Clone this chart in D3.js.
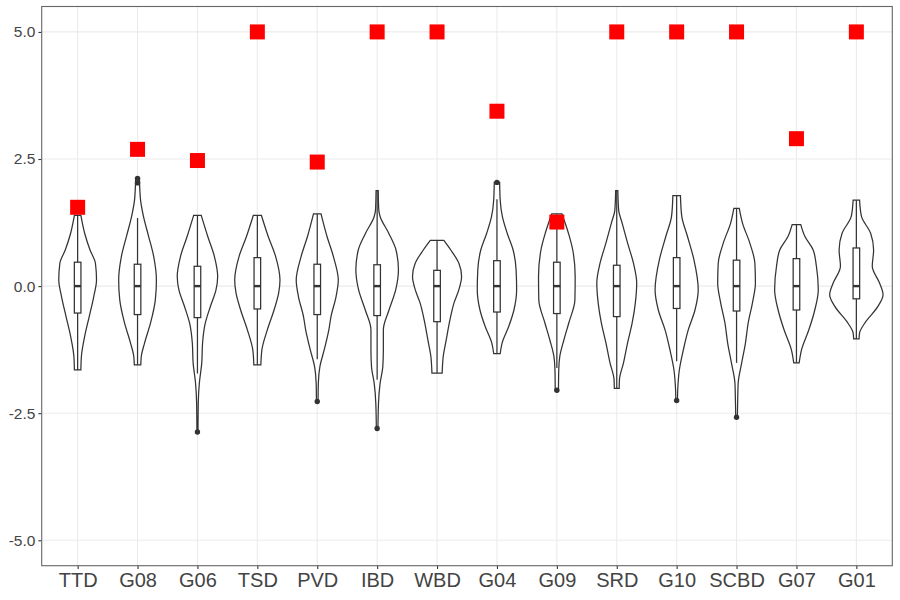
<!DOCTYPE html>
<html>
<head>
<meta charset="utf-8">
<script src="https://cdn.jsdelivr.net/npm/d3@7"></script>
<style>
  body { margin: 0; background: #fff; }
  text { font-family: "Liberation Sans", Arial, sans-serif; }
</style>
</head>
<body>
<div id="chart"></div>
<script>
// categories along the x axis
var categories = ["TTD", "G08", "G06", "TSD", "PVD", "IBD", "WBD", "G04", "G09", "SRD", "G10", "SCBD", "G07", "G01"];

// red square markers
var redValues = [1.55, 2.69, 2.47, 5, 2.44, 5, 5, 3.44, 1.26, 5, 5, 5, 2.90, 5];

// boxplot stats
var boxQ1 = [-0.53, -0.56, -0.62, -0.45, -0.56, -0.58, -0.70, -0.51, -0.54, -0.60, -0.44, -0.49, -0.47, -0.25];
var boxMedian = [0, 0, 0, 0, 0, 0, 0, 0, 0, 0, 0, 0, 0, 0];
var boxQ3 = [0.47, 0.43, 0.39, 0.56, 0.43, 0.42, 0.31, 0.50, 0.47, 0.41, 0.56, 0.51, 0.54, 0.75];
var whiskerLo = [-1.65, -1.55, -1.72, -1.55, -1.44, -1.84, -1.71, -1.33, -1.61, -2.01, -1.48, -1.51, -1.51, -1.04];
var whiskerHi = [1.39, 1.34, 1.39, 1.39, 1.42, 1.88, 0.90, 1.71, 1.42, 1.88, 1.78, 1.53, 1.21, 1.69];
var outliers = [[], [2.12, 2.03], [-2.87], [], [-2.27], [-2.8], [], [2.04], [-2.05], [], [-2.25], [-2.58], [], []];

// violin outlines: [value, relative density]
var violinProfiles = [
  [[1.39,0.12],[1.04,0.26],[0.71,0.46],[0.45,0.66],[0.12,0.70],[-0.2,0.60],[-0.6,0.43],[-0.99,0.26],[-1.38,0.14],[-1.65,0.12]],
  [[2.12,0.07],[1.7,0.11],[1.37,0.22],[0.98,0.41],[0.58,0.60],[0.12,0.70],[-0.27,0.66],[-0.73,0.48],[-1.12,0.26],[-1.38,0.14],[-1.55,0.12]],
  [[1.39,0.14],[0.98,0.38],[0.58,0.63],[0.19,0.75],[-0.07,0.69],[-0.4,0.48],[-0.73,0.29],[-1.12,0.19],[-1.51,0.16],[-1.91,0.07],[-2.3,0.03],[-2.87,0.02]],
  [[1.39,0.15],[0.98,0.40],[0.58,0.68],[0.12,0.84],[-0.14,0.79],[-0.47,0.62],[-0.86,0.37],[-1.25,0.17],[-1.55,0.13]],
  [[1.42,0.14],[0.98,0.36],[0.58,0.60],[0.12,0.78],[-0.2,0.70],[-0.6,0.51],[-0.86,0.43],[-1.25,0.26],[-1.58,0.10],[-1.91,0.04],[-2.27,0.03]],
  [[1.88,0.04],[1.5,0.06],[1.37,0.11],[1.04,0.43],[0.71,0.70],[0.32,0.79],[-0.07,0.69],[-0.47,0.44],[-0.86,0.23],[-1.25,0.23],[-1.58,0.21],[-1.91,0.11],[-2.3,0.05],[-2.8,0.03]],
  [[0.9,0.25],[0.71,0.51],[0.45,0.81],[0.19,0.91],[-0.07,0.81],[-0.33,0.63],[-0.66,0.48],[-1.06,0.34],[-1.38,0.23],[-1.71,0.19]],
  [[2.04,0.10],[1.7,0.12],[1.37,0.20],[1.04,0.38],[0.71,0.60],[0.32,0.71],[-0.07,0.73],[-0.47,0.63],[-0.79,0.44],[-1.12,0.19],[-1.33,0.12]],
  [[1.42,0.19],[1.04,0.43],[0.71,0.59],[0.19,0.68],[-0.27,0.67],[-0.73,0.44],[-1.06,0.26],[-1.38,0.11],[-1.65,0.07],[-2.05,0.06]],
  [[1.88,0.04],[1.5,0.07],[1.24,0.20],[0.85,0.40],[0.45,0.62],[0.06,0.74],[-0.33,0.69],[-0.73,0.57],[-1.12,0.40],[-1.51,0.25],[-1.84,0.10],[-2.01,0.09]],
  [[1.78,0.14],[1.37,0.19],[0.98,0.40],[0.52,0.64],[-0.07,0.80],[-0.47,0.68],[-0.86,0.43],[-1.25,0.25],[-1.65,0.10],[-2.04,0.04],[-2.25,0.03]],
  [[1.53,0.10],[1.24,0.22],[0.85,0.49],[0.45,0.68],[0.06,0.70],[-0.33,0.59],[-0.73,0.43],[-1.12,0.33],[-1.51,0.19],[-1.91,0.06],[-2.3,0.04],[-2.58,0.03]],
  [[1.21,0.16],[0.98,0.31],[0.71,0.62],[0.39,0.74],[-0.07,0.81],[-0.47,0.68],[-0.86,0.46],[-1.25,0.19],[-1.51,0.10]],
  [[1.69,0.12],[1.37,0.19],[1.04,0.53],[0.71,0.64],[0.39,0.59],[0.06,0.86],[-0.17,0.99],[-0.4,0.80],[-0.73,0.31],[-0.92,0.12],[-1.04,0.10]]
];

var yTicks = [-5, -2.5, 0, 2.5, 5];

var svgWidth = 900;
var svgHeight = 600;

var margin = { top: 6.5, right: 7.7, bottom: 34.3, left: 41.7 };

var width = svgWidth - margin.left - margin.right;
var height = svgHeight - margin.top - margin.bottom;

var svg = d3.select("#chart")
  .append("svg")
  .attr("width", svgWidth)
  .attr("height", svgHeight);

var chartGroup = svg.append("g")
  .attr("transform", `translate(${margin.left}, ${margin.top})`);

// scales
var xScale = d3.scalePoint()
  .domain(categories)
  .range([0, width])
  .padding(0.6);

var step = xScale.step();

var yScale = d3.scaleLinear()
  .domain([-5.5, 5.5])
  .range([height, 0]);

// density -> half width
var wScale = d3.scaleLinear()
  .domain([0, 1])
  .range([0, 0.45 * step]);

var boxHalf = 0.055 * step;
var ink = "#333333";

// grid lines
chartGroup.append("g")
  .selectAll("line")
  .data(yTicks)
  .enter()
  .append("line")
  .attr("x1", 0)
  .attr("x2", width)
  .attr("y1", d => yScale(d))
  .attr("y2", d => yScale(d))
  .attr("stroke", "#ebebeb")
  .attr("stroke-width", 1.1);

chartGroup.append("g")
  .selectAll("line")
  .data(categories)
  .enter()
  .append("line")
  .attr("x1", d => xScale(d))
  .attr("x2", d => xScale(d))
  .attr("y1", 0)
  .attr("y2", height)
  .attr("stroke", "#ebebeb")
  .attr("stroke-width", 1.1);

// violins
var violinArea = d3.area()
  .y(d => yScale(d[0]))
  .x0(d => -wScale(d[1]))
  .x1(d => wScale(d[1]))
  .curve(d3.curveMonotoneY);

var groups = chartGroup.selectAll(".cat")
  .data(categories)
  .enter()
  .append("g")
  .attr("class", "cat")
  .attr("transform", d => `translate(${xScale(d)}, 0)`);

groups.append("path")
  .attr("d", (d, i) => violinArea(violinProfiles[i]))
  .attr("fill", "white")
  .attr("stroke", ink)
  .attr("stroke-width", 1.25);

// whiskers
groups.append("line")
  .attr("x1", 0).attr("x2", 0)
  .attr("y1", (d, i) => yScale(boxQ3[i]))
  .attr("y2", (d, i) => yScale(whiskerHi[i]))
  .attr("stroke", ink)
  .attr("stroke-width", 1.25);

groups.append("line")
  .attr("x1", 0).attr("x2", 0)
  .attr("y1", (d, i) => yScale(boxQ1[i]))
  .attr("y2", (d, i) => yScale(whiskerLo[i]))
  .attr("stroke", ink)
  .attr("stroke-width", 1.25);

// boxes
groups.append("rect")
  .attr("x", -boxHalf)
  .attr("width", boxHalf * 2)
  .attr("y", (d, i) => yScale(boxQ3[i]))
  .attr("height", (d, i) => yScale(boxQ1[i]) - yScale(boxQ3[i]))
  .attr("fill", "white")
  .attr("stroke", ink)
  .attr("stroke-width", 1.25);

groups.append("line")
  .attr("x1", -boxHalf).attr("x2", boxHalf)
  .attr("y1", (d, i) => yScale(boxMedian[i]))
  .attr("y2", (d, i) => yScale(boxMedian[i]))
  .attr("stroke", ink)
  .attr("stroke-width", 2.4);

// outliers
groups.selectAll("circle")
  .data((d, i) => outliers[i])
  .enter()
  .append("circle")
  .attr("cx", 0)
  .attr("cy", d => yScale(d))
  .attr("r", 2.7)
  .attr("fill", ink);

// red squares
groups.append("rect")
  .attr("x", -7.5)
  .attr("y", (d, i) => yScale(redValues[i]) - 7.5)
  .attr("width", 15)
  .attr("height", 15)
  .attr("fill", "#ff0000");

// axes
var bottomAxis = d3.axisBottom(xScale).tickSize(3.3).tickPadding(4);
var leftAxis = d3.axisLeft(yScale)
  .tickValues(yTicks)
  .tickFormat(d => d3.format(".1f")(d).replace("\u2212", "-"))
  .tickSize(3.3)
  .tickPadding(3);

var xAxisG = chartGroup.append("g")
  .attr("transform", `translate(0, ${height})`)
  .call(bottomAxis);

xAxisG.select(".domain").remove();
xAxisG.selectAll("line").attr("stroke", ink).attr("stroke-width", 1.1);
xAxisG.selectAll("text")
  .attr("font-size", "20px")
  .attr("fill", "#444444")
  .style("font-family", "'Liberation Sans', Arial, sans-serif");

var yAxisG = chartGroup.append("g")
  .call(leftAxis);

yAxisG.select(".domain").remove();
yAxisG.selectAll("line").attr("stroke", ink).attr("stroke-width", 1.1);
yAxisG.selectAll("text")
  .attr("font-size", "15.5px")
  .attr("fill", "#444444")
  .style("font-family", "'Liberation Sans', Arial, sans-serif");

// panel border
chartGroup.append("rect")
  .attr("x", 0)
  .attr("y", 0)
  .attr("width", width)
  .attr("height", height)
  .attr("fill", "none")
  .attr("stroke", "#666666")
  .attr("stroke-width", 1.1);
</script>
</body>
</html>
